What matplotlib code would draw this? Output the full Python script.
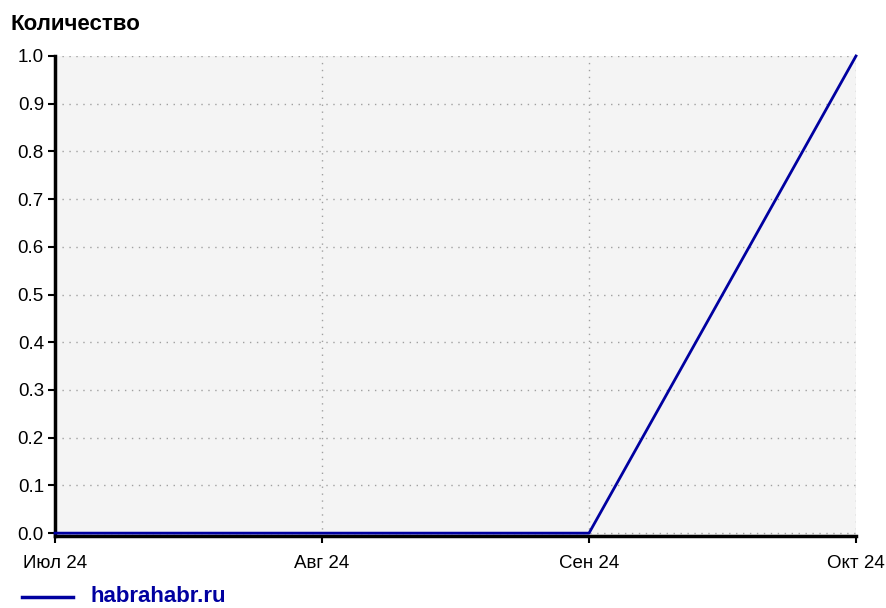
import numpy as np
import matplotlib
matplotlib.use('Agg')
import matplotlib.pyplot as plt
from matplotlib.lines import Line2D

months = ['Июл 24', 'Авг 24', 'Сен 24', 'Окт 24']
counts = [0, 0, 0, 1]
series_name = 'habrahabr.ru'

plt.rcParams['font.family'] = ['Liberation Sans', 'DejaVu Sans']

fig = plt.figure(figsize=(8.87, 6.08), dpi=100)
ax = fig.add_axes([55 / 887, 72 / 608, 801 / 887, 480 / 608])
ax.set_facecolor('#f4f4f4')

x = np.arange(len(months))
ax.plot(x, counts, color='#0000a0', linewidth=2, zorder=3, clip_on=False)

ax.set_xlim(0, len(months) - 1)
ax.set_ylim(-0.006, 1.0)
ax.set_xticks(x)
ax.set_xticklabels(months)
ax.set_yticks(np.arange(0, 1.01, 0.1))
ax.set_yticklabels(['%.1f' % v for v in np.arange(0, 1.01, 0.1)])
ax.tick_params(labelsize=13.5, length=5, width=1.5, color='black', direction='out')
ax.tick_params(axis='x', pad=9)
ax.tick_params(axis='y', pad=3)

ax.grid(True, color='#a0a0a0', linestyle=(0, (1, 4)), linewidth=1)
for s in ['top', 'right']:
    ax.spines[s].set_visible(False)
for s in ['left', 'bottom']:
    ax.spines[s].set_linewidth(2.5)

fig.text(11 / 887, 1 - 24 / 608, 'Количество', fontsize=16, fontweight='bold', va='center', ha='left')

fig.add_artist(Line2D([22 / 887, 73 / 887], [1 - 597 / 608] * 2, color='#0000a0', linewidth=2.5,
                      transform=fig.transFigure))
fig.text(91 / 887, 1 - 597 / 608, series_name, fontsize=16, fontweight='bold', color='#0000a0',
         va='center', ha='left')

fig.savefig('out.png', dpi=100)
